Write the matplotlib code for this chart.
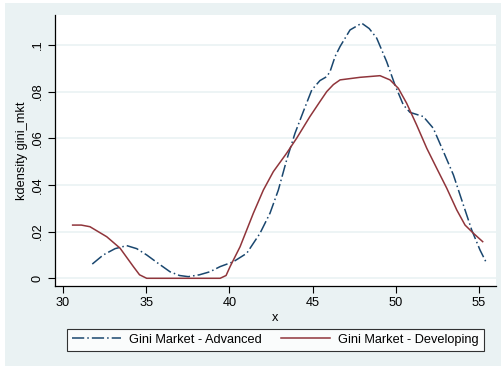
import matplotlib
matplotlib.use("Agg")
import matplotlib.pyplot as plt
from matplotlib.patches import Rectangle

plt.rcParams['font.family'] = ['Liberation Sans', 'DejaVu Sans']

# kernel density estimates
adv_x = [31.76, 32.42, 33.13, 33.83, 34.43, 35.03, 35.7, 36.43, 37.0, 37.53, 38.2, 38.83,
         39.44, 40.24, 41.04, 41.84, 42.44, 42.94, 43.44, 43.94, 44.44, 44.95, 45.44, 45.85,
         46.05, 46.35, 46.65, 47.25, 47.95, 48.4, 48.85, 49.45, 49.95, 50.45, 50.85, 51.65,
         52.25, 52.86, 53.46, 54.06, 54.56, 55.06, 55.46]
adv_y = [0.0061, 0.0100, 0.0127, 0.0140, 0.0127, 0.0100, 0.0065, 0.0028, 0.0012, 0.0007, 0.0015, 0.0028,
         0.0050, 0.0071, 0.0107, 0.0193, 0.0279, 0.0378, 0.0507, 0.0621, 0.0714, 0.0807, 0.0847, 0.0864,
         0.0886, 0.0950, 0.0993, 0.1064, 0.1093, 0.1070, 0.1029, 0.0928, 0.0828, 0.0743, 0.0711, 0.0693,
         0.0643, 0.0543, 0.0443, 0.0314, 0.0207, 0.0121, 0.0064]

dev_x = [30.58, 31.1, 31.62, 32.63, 33.43, 34.23, 34.6, 35.03, 39.44, 39.8, 40.04, 40.64,
         41.04, 41.44, 42.04, 42.64, 43.44, 44.04, 44.84, 45.44, 45.85, 46.25, 46.65, 47.85,
         49.05, 49.65, 50.15, 50.65, 51.25, 51.86, 52.46, 53.06, 53.66, 54.16, 54.66, 55.22]
dev_y = [0.0228, 0.0228, 0.0221, 0.0178, 0.0129, 0.0050, 0.0015, 0.0, 0.0, 0.0012, 0.0050, 0.0135,
         0.0207, 0.0279, 0.0378, 0.0457, 0.0536, 0.0600, 0.0693, 0.0757, 0.0800, 0.0830, 0.0850, 0.0861,
         0.0868, 0.0850, 0.0814, 0.0750, 0.0657, 0.0557, 0.0471, 0.0386, 0.0293, 0.0228, 0.0193, 0.0157]

x_ticks = [30, 35, 40, 45, 50, 55]
y_ticks = [0, 0.02, 0.04, 0.06, 0.08, 0.1]
y_tick_labels = ['0', '.02', '.04', '.06', '.08', '.1']

bg = '#eaf2f3'
navy = '#1a476f'
maroon = '#90353b'
fs = 9.2

fig = plt.figure(figsize=(5.02, 3.66), dpi=100, facecolor='white')
fig.patches.append(Rectangle((5 / 502, 0), 1, 1 - 3 / 366, transform=fig.transFigure,
                             facecolor=bg, edgecolor='none', zorder=-10))

ax = fig.add_axes([55 / 502, 1 - 286 / 366, 441 / 502, 271 / 366])
ax.set_facecolor('white')

ax.plot(adv_x, adv_y, color=navy, lw=1.1, dashes=(8, 2, 1, 2), label='Gini Market - Advanced')
ax.plot(dev_x, dev_y, color=maroon, lw=1.1, label='Gini Market - Developing')

ax.set_xlim(29.52, 56.02)
ax.set_ylim(-0.0033, 0.1128)
ax.set_xticks(x_ticks)
ax.set_yticks(y_ticks)
ax.set_yticklabels(y_tick_labels, rotation=90, va='center')
ax.tick_params(labelsize=fs, length=5, width=0.8, pad=3, color='black')
ax.grid(axis='y', color=bg, lw=1.2)
ax.set_axisbelow(True)
for side in ['top', 'right']:
    ax.spines[side].set_visible(False)
for side in ['left', 'bottom']:
    ax.spines[side].set_linewidth(0.9)

ax.set_xlabel('x', fontsize=fs, labelpad=2)
ax.set_ylabel('kdensity gini_mkt', fontsize=fs, labelpad=3)

leg = fig.legend(loc='center', bbox_to_anchor=(275.5 / 502, 1 - 339.7 / 366), ncol=2,
                 fontsize=fs, handlelength=3.8, handletextpad=0.65, columnspacing=1.5,
                 frameon=True, fancybox=False, borderpad=0.4)
leg.get_frame().set_edgecolor('black')
leg.get_frame().set_linewidth(0.8)

fig.savefig('out.png', dpi=100, facecolor=fig.get_facecolor())
